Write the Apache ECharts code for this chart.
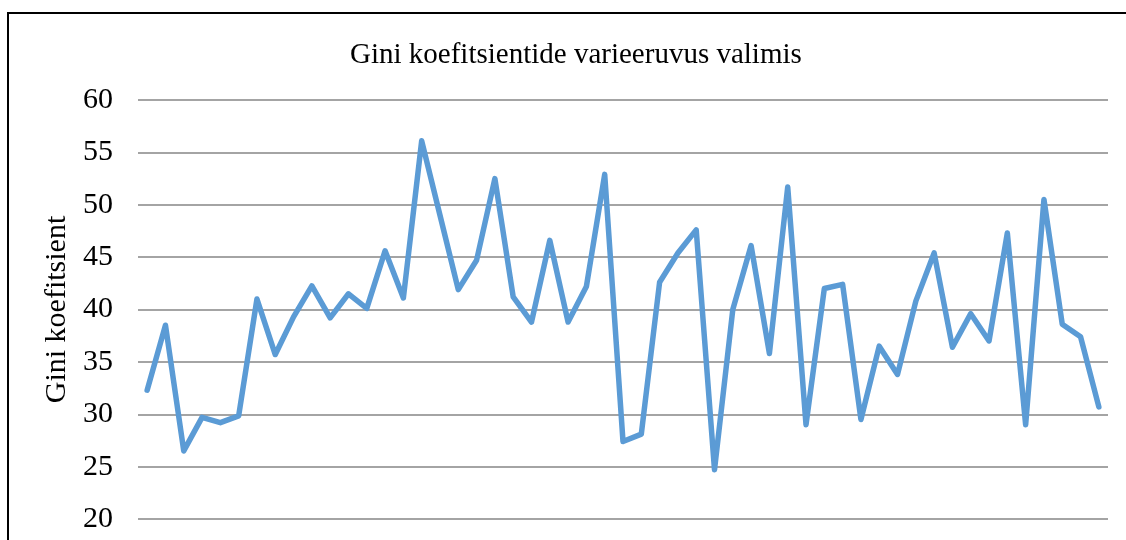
<!DOCTYPE html>
<html>
<head>
<meta charset="utf-8">
<script src="https://cdn.jsdelivr.net/npm/echarts@6/dist/echarts.min.js"></script>
<style>
  html, body { margin: 0; padding: 0; background: #fff; }
  #chart { width: 1126px; height: 540px; }
</style>
</head>
<body>
<div id="chart"></div>
<script>
// andmed loetud pildilt
var valimid = [];
for (var i = 1; i <= 53; i++) valimid.push(String(i));

var gini = [
  32.3, 38.5, 26.5, 29.7, 29.2, 29.85, 41.0, 35.7, 39.3, 42.25,
  39.2, 41.5, 40.1, 45.6, 41.1, 56.1, 49.0, 41.9, 44.7, 52.5,
  41.2, 38.8, 46.6, 38.8, 42.2, 52.9, 27.4, 28.1, 42.6, 45.4,
  47.6, 24.7, 40.0, 46.1, 35.8, 51.7, 29.0, 42.0, 42.4, 29.5,
  36.5, 33.8, 40.8, 45.4, 36.4, 39.6, 37.0, 47.3, 29.0, 50.5,
  38.6, 37.4, 30.7
];

var yTicks = [20, 25, 30, 35, 40, 45, 50, 55, 60];

var chart = echarts.init(document.getElementById("chart"));

var option = {
  backgroundColor: "#fff",
  animation: false,
  title: {
    text: "Gini koefitsientide varieeruvus valimis",
    left: 345,
    top: 36,
    textStyle: {
      fontFamily: "Liberation Serif",
      fontWeight: "normal",
      fontSize: 29,
      color: "#000"
    }
  },
  graphic: [
    {
      type: "rect",
      shape: { x: 8, y: 13, width: 1300, height: 700 },
      style: { fill: null, stroke: "#000", lineWidth: 2 },
      silent: true
    }
  ],
  grid: { left: 138, right: 18, top: 100, bottom: 21 },
  xAxis: {
    type: "category",
    data: valimid,
    boundaryGap: true,
    axisLine: { show: false },
    axisTick: { show: false },
    axisLabel: { show: false }
  },
  yAxis: {
    type: "value",
    min: yTicks[0],
    max: yTicks[yTicks.length - 1],
    interval: 5,
    name: "Gini koefitsient",
    nameLocation: "middle",
    nameGap: 60,
    nameTextStyle: {
      fontFamily: "Liberation Serif",
      fontSize: 30,
      color: "#000"
    },
    axisLine: { show: false },
    axisTick: { show: false },
    axisLabel: {
      margin: 25,
      fontFamily: "Liberation Serif",
      fontSize: 30,
      color: "#000"
    },
    splitLine: { lineStyle: { color: "#868686", width: 1.5 } }
  },
  series: [
    {
      name: "Gini",
      type: "line",
      data: gini,
      symbol: "none",
      lineStyle: { color: "#5B9BD5", width: 5.5, join: "round", cap: "round" }
    }
  ]
};

chart.setOption(option);
</script>
</body>
</html>
